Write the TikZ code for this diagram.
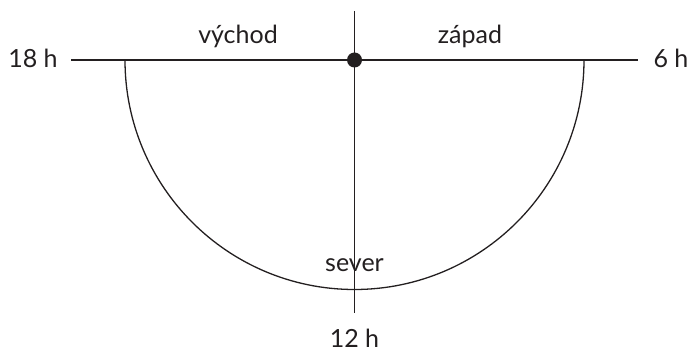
\documentclass[tikz,border=0pt]{standalone}
\usepackage{fontspec}
\setmainfont{Lato}
\definecolor{ink}{HTML}{231F20}
\begin{document}
\begin{tikzpicture}[x=1pt,y=-1pt,
  lbl/.style={anchor=base,inner sep=0pt,text=ink,font=\fontsize{25}{30}\selectfont},
  ln/.style={draw=ink,line width=1.3pt}]
\useasboundingbox (0,0) rectangle (691,352);
\coordinate (O) at (354.5,60);
\coordinate (L) at (71,60);
\coordinate (R) at (638,60);
\coordinate (T) at (354.5,11);
\coordinate (B) at (354.5,313);
\coordinate (AL) at (125,60);
\draw[ln] (L) -- (R);
\draw[ln] (T) -- (B);
\draw[ln] (AL) arc[start angle=180,end angle=0,radius=229.5];
\fill[ink] (O) circle[radius=7.5];
\node[lbl] (h18) at (33,68) {18 h};
\node[lbl] (h6) at (671,68) {6 h};
\node[lbl] (vych) at (238,44) {východ};
\node[lbl] (zap) at (470,44) {západ};
\node[lbl] (sev) at (354.5,272) {sever};
\node[lbl] (h12) at (354.5,348) {12 h};
\end{tikzpicture}
\end{document}
